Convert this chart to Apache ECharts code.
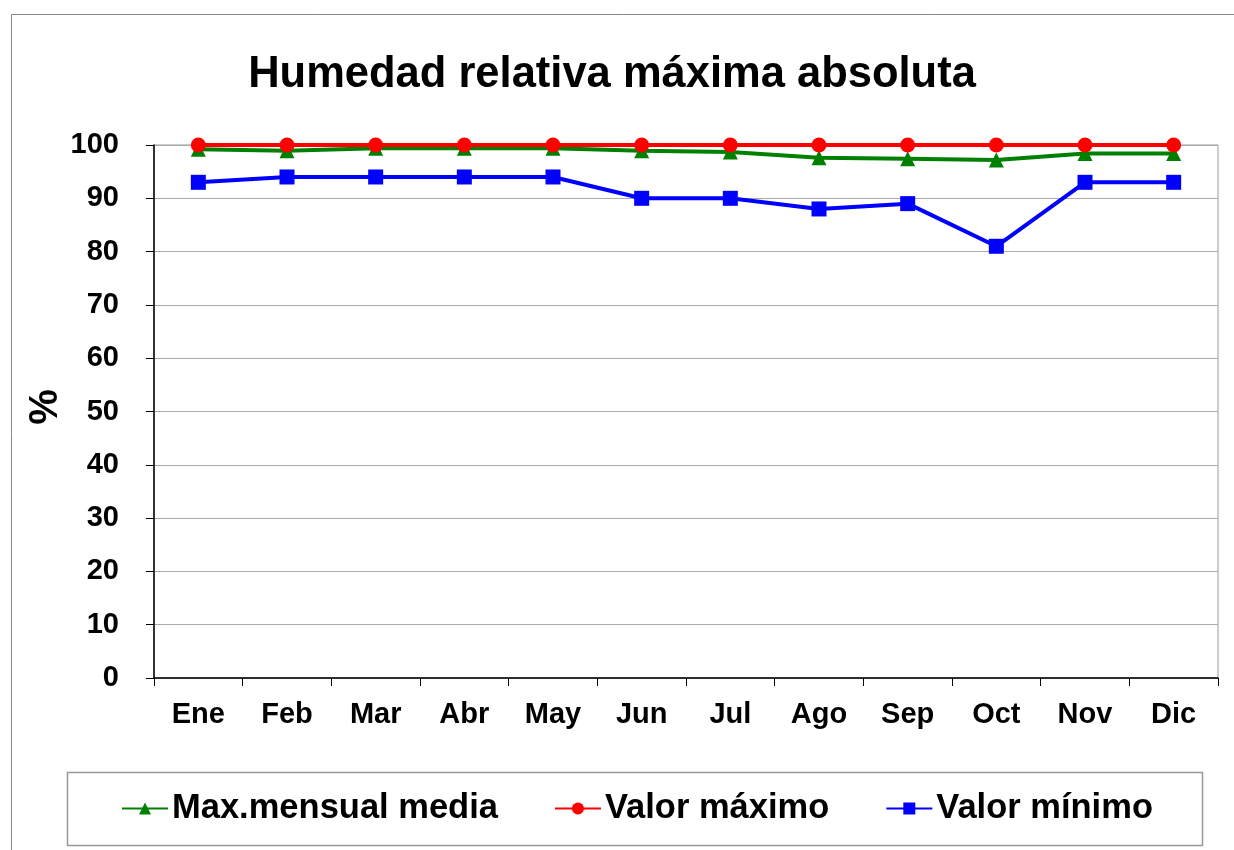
<!DOCTYPE html>
<html>
<head>
<meta charset="utf-8">
<script src="https://cdn.jsdelivr.net/npm/echarts@6/dist/echarts.min.js"></script>
<style>
  html, body { margin: 0; padding: 0; background: #fff; }
  #main { width: 1234px; height: 850px; }
</style>
</head>
<body>
<div id="main"></div>
<script>
// meses y valores
const meses = ["Ene", "Feb", "Mar", "Abr", "May", "Jun", "Jul", "Ago", "Sep", "Oct", "Nov", "Dic"];
const maxMensualMedia = [99.2, 98.9, 99.4, 99.4, 99.4, 98.9, 98.7, 97.6, 97.4, 97.2, 98.4, 98.4];
const valorMaximo = [100, 100, 100, 100, 100, 100, 100, 100, 100, 100, 100, 100];
const valorMinimo = [93, 94, 94, 94, 94, 90, 90, 88, 89, 81, 93, 93];

const fuente = "Liberation Sans";
const chart = echarts.init(document.getElementById("main"));

const option = {
  animation: false,
  textStyle: { fontFamily: fuente },
  title: {
    text: "Humedad relativa máxima absoluta",
    left: 612,
    textAlign: "center",
    top: 53,
    padding: 0,
    textStyle: { fontSize: 43.5, fontWeight: "bold", color: "#000", fontFamily: fuente },
  },
  graphic: [
    {
      // marco exterior
      type: "rect",
      shape: { x: 11.5, y: 14.5, width: 1240, height: 900 },
      style: { fill: "none", stroke: "#888", lineWidth: 1 },
      silent: true,
    },
    {
      // marco de la leyenda
      type: "rect",
      shape: { x: 67.5, y: 772.5, width: 1135, height: 73 },
      style: { fill: "none", stroke: "#999", lineWidth: 1.5 },
      silent: true,
    },
    {
      // nombre del eje y
      type: "text",
      x: 46,
      y: 407,
      rotation: Math.PI / 2,
      style: {
        text: "%",
        fontSize: 40,
        fontWeight: "bold",
        fontFamily: fuente,
        fill: "#000",
        align: "center",
        verticalAlign: "middle",
      },
      silent: true,
    },
  ],
  grid: {
    left: 154,
    right: 16,
    top: 145,
    bottom: 172,
    show: true,
    borderColor: "#999",
    borderWidth: 1,
  },
  legend: {
    left: 116,
    top: 786,
    itemGap: 56,
    itemWidth: 46,
    itemHeight: 15,
    textStyle: { fontSize: 34.5, fontWeight: "bold", color: "#000", fontFamily: fuente, padding: [0, 0, 0, -1] },
    data: ["Max.mensual media", "Valor máximo", "Valor mínimo"],
  },
  xAxis: {
    type: "category",
    data: meses,
    boundaryGap: true,
    axisLine: { lineStyle: { color: "#000", width: 1.5 } },
    axisTick: { show: true, length: 8, lineStyle: { color: "#000" } },
    axisLabel: { fontSize: 29, fontWeight: "bold", color: "#000", margin: 22, fontFamily: fuente },
  },
  yAxis: {
    type: "value",
    min: 0,
    max: 100,
    interval: 10,
    axisLine: { show: true, lineStyle: { color: "#000", width: 1.5 } },
    axisTick: { show: true, length: 8, lineStyle: { color: "#000" } },
    axisLabel: { fontSize: 29, fontWeight: "bold", color: "#000", margin: 35, fontFamily: fuente },
    splitLine: { show: true, lineStyle: { color: "#aaa", width: 1 } },
  },
  series: [
    {
      name: "Max.mensual media",
      type: "line",
      data: maxMensualMedia,
      symbol: "triangle",
      symbolSize: 15,
      color: "#008000",
      lineStyle: { width: 4, color: "#008000" },
      itemStyle: { color: "#008000" },
      z: 3,
    },
    {
      name: "Valor máximo",
      type: "line",
      data: valorMaximo,
      symbol: "circle",
      symbolSize: 15,
      color: "#ff0000",
      lineStyle: { width: 4, color: "#ff0000" },
      itemStyle: { color: "#ff0000" },
      z: 4,
    },
    {
      name: "Valor mínimo",
      type: "line",
      data: valorMinimo,
      symbol: "rect",
      symbolSize: 15,
      color: "#0000ff",
      lineStyle: { width: 4, color: "#0000ff" },
      itemStyle: { color: "#0000ff" },
      z: 3,
    },
  ],
};

chart.setOption(option);
</script>
</body>
</html>
